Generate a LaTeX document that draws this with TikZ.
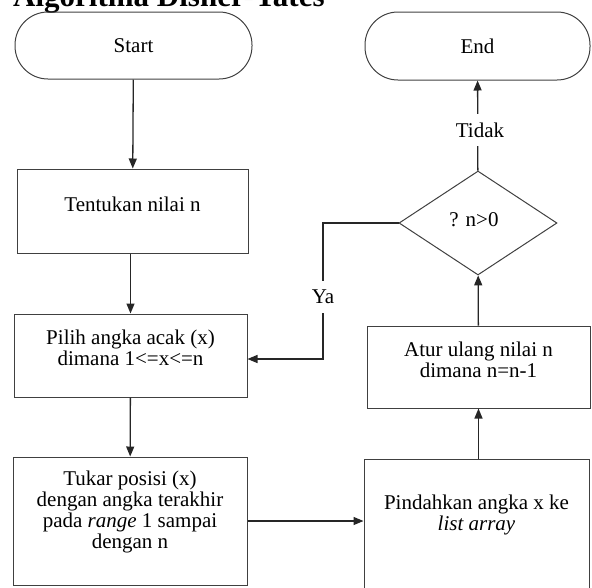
\documentclass[tikz,border=0pt]{standalone}
\usepackage{fontspec}
\setmainfont{Liberation Serif}
\usetikzlibrary{arrows.meta,shapes.geometric}

\begin{document}
\begin{tikzpicture}[x=1pt,y=-1pt,
  box/.style={draw=black!75, line width=1pt, rectangle, inner sep=0pt},
  term/.style={box, rounded corners=33pt},
  decision/.style={draw=black!75, line width=1pt, diamond, inner sep=0pt},
  txt/.style={font=\fontsize{21}{21}\selectfont, align=center, inner sep=0pt},
  flow/.style={draw=black!85, line width=1.3pt, -{Triangle[length=10pt,width=8pt]}},
  lbl/.style={txt, fill=white, inner xsep=6pt, inner ysep=9pt}]

% page frame
\useasboundingbox (0,0) rectangle (592,587);

% heading (partly above the page edge)
\node[anchor=base west, inner sep=0pt, font=\bfseries\fontsize{31}{31}\selectfont]
  (title) at (13,6.5) {Algoritma Disher-Yates};

% terminals
\node[term, minimum width=237pt, minimum height=67pt, txt] (start) at (133.5,45.5) {Start};
\node[term, minimum width=225pt, minimum height=68pt, txt] (end) at (477.5,46) {End};

% process boxes
\node[box, minimum width=231pt, minimum height=84pt] (tent) at (132.5,211) {};
\node[txt] (tent-t) at (132.5,204) {Tentukan nilai n};

\node[box, minimum width=233pt, minimum height=83pt] (pilih) at (130.5,355.5) {};
\node[txt] (pilih-t) at (130.5,348) {Pilih angka acak (x)\\dimana 1<=x<=n};

\node[box, minimum width=234pt, minimum height=128pt] (tukar) at (130,521) {};
\node[txt] (tukar-t) at (130,512) {Tukar posisi (x)\\dengan angka terakhir\\pada \textit{range} 1 sampai\\dengan n};

\node[box, minimum width=225pt, minimum height=131pt] (pindah) at (476.5,524.5) {};
\node[txt] (pindah-t) at (476.5,515) {Pindahkan angka x ke\\\textit{list array}};

\node[box, minimum width=223pt, minimum height=82pt] (atur) at (478.5,367) {};
\node[txt] (atur-t) at (478.5,360) {Atur ulang nilai n\\dimana n=n-1};

% decision
\node[decision, minimum width=158pt, minimum height=104pt] (dec) at (478,223) {};
\node[txt] (dec-t) at (474,220) {? n>0};

% connectors
\draw[flow] (start) -- (tent);
\draw[flow] (tent.south -| pilih) -- (pilih);
\draw[flow] (pilih) -- (tukar);
\draw[flow] (tukar.east) -- (pindah.west |- tukar.east);
\draw[flow] (pindah.north -| atur) -- (atur.south);
\draw[flow] (atur) -- (dec);
\draw[flow] (dec) -- (end);

\coordinate (yabend) at (323,359);
\draw[flow] (dec.west) -| (yabend) -- (yabend -| pilih.east);

% branch labels
\node[lbl] (ya) at (323,297) {Ya};
\node[lbl] (tidak) at (480,130) {Tidak};
\end{tikzpicture}
\end{document}
